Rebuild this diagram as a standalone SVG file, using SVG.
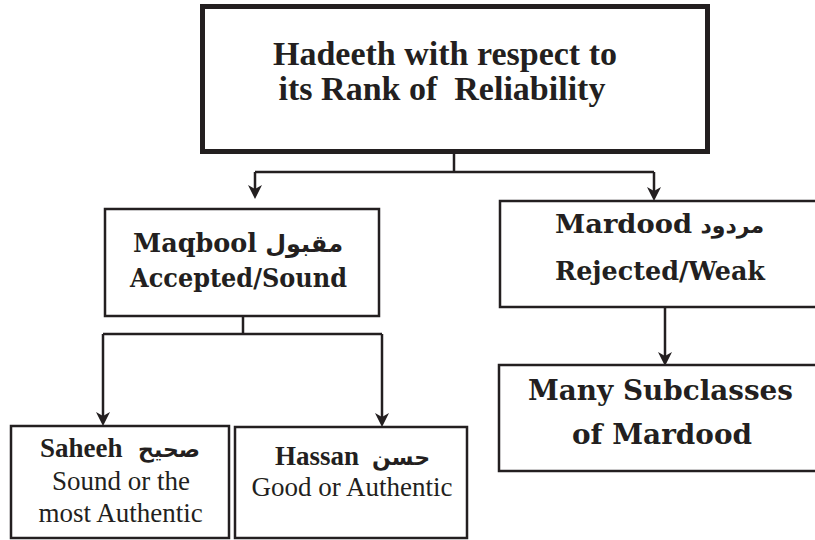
<svg xmlns="http://www.w3.org/2000/svg" width="815" height="540" viewBox="0 0 815 540">
<style>
.box{fill:#fff;stroke:#231f20;stroke-width:2.5}
.conn{fill:none;stroke:#231f20;stroke-width:2.5}
.tb{font-family:"Liberation Serif",serif;font-weight:bold;fill:#231f20}
.tr{font-family:"Liberation Serif",serif;fill:#231f20}
.pb{font-family:"DejaVu Serif","Liberation Serif",serif;font-weight:bold;fill:#231f20}
.ar{font-family:"DejaVu Sans",sans-serif;font-weight:bold;fill:#231f20}
</style>
<defs>
<marker id="ah" markerUnits="userSpaceOnUse" markerWidth="16" markerHeight="16" refX="6" refY="7" orient="auto" overflow="visible">
<path d="M0,0 L14,7 L0,14 L4,7 z" fill="#231f20"/>
</marker>
</defs>
<rect width="815" height="540" fill="#fff"/>
<g id="connectors">
<path class="conn" d="M454,152 V172" stroke-width="3"/>
<path class="conn" d="M255,172 H654" stroke-width="3"/>
<path class="conn" d="M255,172 V191" stroke-width="3" marker-end="url(#ah)"/>
<path class="conn" d="M654,172 V193" stroke-width="3" marker-end="url(#ah)"/>
<path class="conn" d="M243,316 V334"/>
<path class="conn" d="M103,334 H382"/>
<path class="conn" d="M103,334 V418" marker-end="url(#ah)"/>
<path class="conn" d="M382,334 V419" marker-end="url(#ah)"/>
<path class="conn" d="M665,302 V358" stroke-width="3" marker-end="url(#ah)"/>
</g>
<g id="root">
<rect x="202.5" y="6.5" width="505" height="145" fill="#fff" stroke="#231f20" stroke-width="5"/>
<text class="tb" x="445" y="65" font-size="34" text-anchor="middle">Hadeeth with respect to</text>
<text class="tb" x="442" y="100" font-size="34" text-anchor="middle" xml:space="preserve">its Rank of  Reliability</text>
</g>
<g id="maqbool">
<rect class="box" x="105" y="209" width="274" height="107"/>
<text class="pb" x="133" y="252" font-size="26" textLength="124" lengthAdjust="spacingAndGlyphs">Maqbool</text>
<text class="ar" x="343" y="252" font-size="24" text-anchor="end">مقبول</text>
<text class="pb" x="130" y="287" font-size="26" textLength="217" lengthAdjust="spacingAndGlyphs">Accepted/Sound</text>
</g>
<g id="mardood">
<rect class="box" x="500" y="201" width="330" height="106"/>
<text class="pb" x="555" y="233" font-size="26" textLength="137" lengthAdjust="spacingAndGlyphs">Mardood</text>
<text class="ar" x="764" y="233" font-size="22" text-anchor="end">مردود</text>
<text class="pb" x="555" y="280" font-size="26" textLength="210" lengthAdjust="spacingAndGlyphs">Rejected/Weak</text>
</g>
<g id="subclasses">
<rect class="box" x="499" y="365" width="331" height="106"/>
<text class="pb" x="528" y="400" font-size="28" textLength="265" lengthAdjust="spacingAndGlyphs">Many Subclasses</text>
<text class="pb" x="572" y="444" font-size="28" textLength="180" lengthAdjust="spacingAndGlyphs">of Mardood</text>
</g>
<g id="saheeh">
<rect class="box" x="11" y="426" width="218" height="112"/>
<text class="tb" x="40" y="457" font-size="27">Saheeh</text>
<text class="ar" x="200" y="457" font-size="22" text-anchor="end">صحيح</text>
<text class="tr" x="121" y="490" font-size="27" text-anchor="middle">Sound or the</text>
<text class="tr" x="120.5" y="522" font-size="27" text-anchor="middle">most Authentic</text>
</g>
<g id="hassan">
<rect class="box" x="235" y="427" width="232" height="111"/>
<text class="tb" x="275" y="465" font-size="27">Hassan</text>
<text class="ar" x="430" y="465" font-size="22" text-anchor="end">حسن</text>
<text class="tr" x="352" y="496" font-size="27" text-anchor="middle">Good or Authentic</text>
</g>
</svg>
